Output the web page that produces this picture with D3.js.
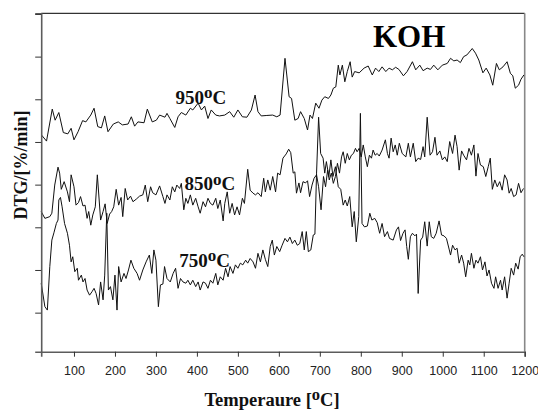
<!DOCTYPE html>
<html>
<head>
<meta charset="utf-8">
<script src="https://cdn.jsdelivr.net/npm/d3@7"></script>
<style>
  html, body { margin: 0; padding: 0; background: #fff; }
  svg { display: block; }
</style>
</head>
<body>
<svg id="chart" width="538" height="410"></svg>
<script>
// ---------------- data ----------------
const xTicks = [100, 200, 300, 400, 500, 600, 700, 800, 900, 1000, 1100, 1200];
const yTicks = [1, 2, 3, 4, 5, 6, 7, 8];
const seriesNames = ["950", "850", "750"];
const chartTitle = "KOH";
const xTitle = "Temperaure [";
const yTitle = "DTG/[%/min]";

const t950 = [21,33,47,54,63,74,85,93,100,110,121,129,141,149,158,167,175,183,196,208,218,232,240,248,256,271,279,291,301,309,322,327,334,346,354,362,373,384,390,403,411,419,427,435,446,455,468,480,490,500,511,522,533,542,549,557,569,585,595,603,615,625,631,639,647,653,662,670,676,682,690,698,705,712,721,727,733,739,745,749,755,761,767,774,779,785,796,808,818,828,836,844,852,861,869,877,885,893,904,913,926,934,944,952,962,970,978,988,999,1011,1019,1027,1035,1043,1051,1059,1072,1080,1088,1098,1106,1115,1122,1131,1138,1147,1157,1165,1171,1177,1185,1191,1198];
const v950 = [5.16,5.02,5.77,5.51,5.69,5.22,5.19,5.32,5.05,5.24,5.50,5.47,5.63,5.79,5.36,5.33,5.61,5.24,5.42,5.47,5.40,5.42,5.59,5.37,5.47,5.45,5.77,5.47,5.51,5.63,5.58,5.67,5.55,5.34,5.59,5.69,5.63,5.79,5.75,5.91,5.75,5.84,5.55,5.75,5.63,5.61,5.63,5.71,5.58,5.75,5.59,5.58,5.75,6.10,5.71,5.61,5.62,5.63,5.59,5.63,6.96,6.06,6.02,5.51,5.55,5.71,5.55,5.28,5.63,5.55,5.91,5.79,5.98,6.06,6.02,6.10,6.26,6.29,6.80,6.57,6.80,6.41,6.65,6.88,6.52,6.65,6.62,6.73,6.78,6.57,6.73,6.65,6.76,6.65,6.73,6.69,6.75,6.70,6.55,6.65,6.88,6.69,6.80,6.67,6.73,6.70,6.80,6.69,6.80,6.84,6.96,6.90,6.92,6.86,7.00,7.04,7.19,7.08,6.92,6.62,6.73,6.57,6.33,6.84,6.69,6.76,6.88,6.61,6.55,6.26,6.33,6.47,6.57];

const t850 = [20,29,41,46,53,61,65,69,76,84,89,93,100,105,111,116,122,127,132,136,141,146,152,157,165,171,176,181,187,192,197,203,209,215,219,225,231,238,244,252,260,268,274,280,287,292,300,309,317,322,327,334,340,346,351,358,362,368,373,378,384,390,397,403,408,415,421,427,433,439,446,451,457,464,468,474,480,486,492,498,504,511,516,524,530,537,543,549,557,563,567,573,579,585,592,597,603,610,618,624,629,635,639,643,649,653,659,665,670,675,681,686,692,697,703,709,714,719,723,728,733,738,743,748,753,757,762,767,772,777,782,787,791,796,801,806,811,816,821,826,830,835,840,845,852,860,865,869,874,879,884,889,894,901,910,916,921,928,934,940,946,952,956,962,969,975,981,986,993,999,1005,1011,1017,1024,1030,1035,1040,1046,1051,1058,1064,1070,1076,1081,1086,1092,1099,1105,1111,1116,1121,1127,1133,1139,1145,1151,1157,1162,1167,1173,1179,1185,1191,1197];
const v850 = [3.37,3.21,3.25,3.33,3.99,4.41,4.27,3.89,4.07,3.83,3.60,4.23,3.95,3.52,3.58,3.72,3.50,3.52,3.21,3.37,3.05,3.29,3.48,4.23,3.17,3.37,3.55,3.09,3.31,3.37,3.48,3.89,3.52,3.70,3.25,3.91,3.64,3.73,3.60,3.66,3.73,3.76,3.99,3.60,3.95,3.81,3.76,3.97,3.72,3.56,3.76,3.64,3.95,3.83,3.99,3.91,4.03,3.41,3.68,3.56,3.76,3.52,3.68,3.48,3.33,3.60,3.48,3.68,3.56,3.52,3.68,3.44,3.64,3.15,3.56,3.83,3.33,3.56,3.29,3.48,3.29,3.68,3.56,4.36,3.87,3.80,3.76,3.81,3.72,4.15,3.83,4.11,3.87,4.19,3.83,4.27,4.23,4.62,4.72,4.83,4.75,4.27,4.30,3.80,4.04,3.81,4.07,4.04,4.09,3.72,3.99,4.15,4.23,3.95,3.41,4.19,3.95,4.34,4.11,4.27,4.03,4.19,4.50,4.27,4.65,4.77,4.50,4.73,4.58,4.69,4.73,4.85,4.77,4.85,4.65,4.93,4.65,4.42,4.69,4.62,4.81,4.69,4.73,4.67,4.81,5.05,4.73,4.62,5.09,4.77,4.93,4.69,4.97,4.73,4.65,4.97,4.65,4.97,4.54,4.62,4.59,4.89,4.65,5.58,4.69,4.77,5.11,4.69,4.79,4.58,4.65,4.54,5.01,4.73,5.16,4.89,4.34,4.79,4.69,4.58,4.85,4.69,4.93,4.20,4.73,4.46,4.42,4.19,4.42,4.62,3.89,4.11,3.95,4.07,3.87,4.23,4.11,3.80,3.91,3.72,3.76,4.03,3.81,3.91];

const t750 = [20,29,35,41,46,51,57,61,63,67,71,77,84,89,93,97,102,108,111,118,122,127,132,138,144,149,154,160,165,171,175,180,184,189,195,200,205,209,215,222,227,233,239,246,254,260,268,276,284,290,295,300,306,311,317,321,327,335,342,348,354,360,366,373,378,384,390,397,403,408,415,421,427,433,439,446,451,457,464,470,476,481,488,494,500,506,512,519,524,530,537,543,549,555,561,567,573,579,584,589,595,602,608,615,621,627,633,639,645,651,657,662,667,672,678,684,688,692,697,702,708,712,716,722,727,732,738,745,751,757,762,767,773,779,784,789,795,799,803,809,816,822,827,834,840,846,852,858,865,870,879,887,892,897,903,908,912,916,921,926,932,936,940,946,951,956,962,967,972,978,984,991,997,1003,1009,1016,1019,1024,1030,1035,1040,1046,1051,1056,1062,1066,1070,1076,1081,1086,1092,1097,1103,1108,1113,1119,1125,1129,1135,1141,1145,1151,1157,1162,1167,1173,1178,1184,1189,1194,1198];
const v750 = [1.69,1.14,1.06,2.08,2.70,2.87,3.09,3.17,3.64,3.70,3.48,3.09,2.86,2.58,2.19,2.31,1.96,2.04,1.76,1.88,1.72,1.80,1.53,1.41,1.49,1.57,1.45,1.18,1.72,1.30,1.88,3.33,1.53,1.61,1.30,1.88,1.06,2.08,1.72,1.92,1.80,2.00,2.23,2.04,1.92,1.76,2.00,2.19,2.35,1.92,2.47,2.23,1.14,1.65,1.67,2.08,1.80,1.72,1.92,2.04,1.57,1.80,1.72,1.69,1.76,1.65,1.76,1.61,1.72,1.53,1.72,1.69,1.57,1.76,1.69,1.92,1.65,1.84,1.76,2.04,1.84,2.08,1.92,2.12,2.04,2.16,2.12,2.23,2.16,2.27,2.19,2.04,2.39,2.19,2.47,2.25,2.08,2.55,2.70,2.35,2.55,2.43,2.58,2.74,2.66,2.77,2.62,2.70,2.58,2.62,2.90,2.47,2.90,2.43,2.47,2.82,2.84,4.27,5.58,4.73,4.62,4.27,4.54,4.19,4.58,4.19,4.42,3.95,3.89,3.52,3.64,3.50,3.72,3.01,3.37,2.66,3.25,5.67,3.09,3.01,3.03,3.33,3.17,3.21,3.11,2.86,3.09,2.78,2.90,2.74,2.70,2.94,3.01,2.69,2.86,2.94,2.55,2.25,2.78,2.86,2.80,2.84,1.45,2.70,2.77,3.13,2.56,3.13,2.78,2.74,2.86,3.15,2.82,2.80,2.74,2.47,2.35,2.58,2.47,2.51,2.16,2.35,2.16,1.84,2.23,2.12,2.39,2.04,2.23,2.16,2.31,2.00,2.19,1.86,2.00,1.69,1.57,1.84,1.57,1.76,1.53,1.84,1.34,1.69,2.04,1.88,2.16,2.02,2.31,2.37,2.31];

// ---------------- chart ----------------
const svg = d3.select("#chart");
const mLeft = 41.2, mRight = 524.7, mTop = 13.3, mBottom = 351.7;

const x = d3.scaleLinear().domain([20, 1200]).range([mLeft, mRight]);
const y = d3.scaleLinear().domain([0.085, 8.015]).range([mBottom, mTop]);

const axisColor = "#5c5c5c";
const serif = "'Liberation Serif', 'Times New Roman', serif";

// frame: top (black) and right (gray)
svg.append("line").attr("x1", mLeft).attr("x2", mRight).attr("y1", mTop).attr("y2", mTop)
  .attr("stroke", "#000").attr("stroke-width", 1);
svg.append("line").attr("x1", mRight).attr("x2", mRight).attr("y1", mTop).attr("y2", mBottom)
  .attr("stroke", "#888").attr("stroke-width", 1.6);

// series lines
const series = [
  { name: seriesNames[0], t: t950, v: v950 },
  { name: seriesNames[1], t: t850, v: v850 },
  { name: seriesNames[2], t: t750, v: v750 }
];
const line = d3.line().x(d => x(d[0])).y(d => y(d[1]));
series.forEach(s => {
  svg.append("path")
    .datum(d3.zip(s.t, s.v))
    .attr("fill", "none")
    .attr("stroke", "#111")
    .attr("stroke-width", 1)
    .attr("stroke-linejoin", "miter")
    .attr("d", line);
});

// axes
const yAxis = svg.append("g").attr("transform", `translate(${mLeft},0)`)
  .call(d3.axisLeft(y).tickValues(yTicks).tickSize(6).tickFormat(""));
const xAxis = svg.append("g").attr("transform", `translate(0,${mBottom})`)
  .call(d3.axisBottom(x).tickValues(xTicks).tickSize(5).tickPadding(9.5).tickFormat(d3.format("d")));
[yAxis, xAxis].forEach(g => {
  g.select(".domain").attr("stroke", axisColor).attr("stroke-width", 1.6);
  g.selectAll(".tick line").attr("stroke", "#333").attr("stroke-width", 1);
});
xAxis.selectAll(".tick text")
  .attr("fill", "#222")
  .style("font-family", "'Liberation Sans', Arial, sans-serif")
  .style("font-size", "12.5px");

// curve labels
const labelPos = [
  { name: seriesNames[0], t: 348, v: 5.89 },
  { name: seriesNames[1], t: 370, v: 3.87 },
  { name: seriesNames[2], t: 357, v: 2.08 }
];
labelPos.forEach(l => {
  const txt = svg.append("text")
    .attr("x", x(l.t)).attr("y", y(l.v))
    .attr("font-family", serif).attr("font-weight", "bold")
    .attr("font-size", 19).attr("fill", "#111");
  txt.append("tspan").text(l.name);
  txt.append("tspan").attr("dy", -5.5).attr("font-size", 17).text("o");
  txt.append("tspan").attr("dy", 5.5).text("C");
});

// title KOH
svg.append("text")
  .attr("x", x(918)).attr("y", y(7.23))
  .attr("text-anchor", "middle")
  .attr("font-family", serif).attr("font-weight", "bold")
  .attr("font-size", 31).attr("fill", "#000")
  .text(chartTitle);

// x title
const xt = svg.append("text")
  .attr("x", 272).attr("y", 406)
  .attr("text-anchor", "middle")
  .attr("font-family", serif).attr("font-weight", "bold")
  .attr("font-size", 18.5).attr("fill", "#111");
xt.append("tspan").text(xTitle);
xt.append("tspan").attr("dy", -6).attr("font-size", 16.5).text("o");
xt.append("tspan").attr("dy", 6).text("C]");

// y title
svg.append("text")
  .attr("transform", "translate(27,165) rotate(-90)")
  .attr("text-anchor", "middle")
  .attr("font-family", serif).attr("font-weight", "bold")
  .attr("font-size", 18).attr("fill", "#111")
  .text(yTitle);
</script>
</body>
</html>
